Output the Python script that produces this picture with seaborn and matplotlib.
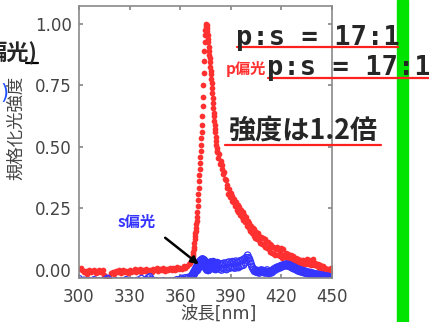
import numpy as np
import pandas as pd
import matplotlib
matplotlib.use('Agg')
import matplotlib.pyplot as plt
import seaborn as sns
from matplotlib.patches import Rectangle
from matplotlib.lines import Line2D

# sampling grid of the spectrum (nm): coarse baseline, fine around the peak, tail
wl_base = np.arange(300, 367, 1.0)
wl_peak = np.arange(367, 382, 0.2)
wl_tail = np.arange(382, 450.01, 0.5)

# p-polarised intensity (normalised)
p_base = [0.005, 0.008, 0.0, -0.01, -0.005, -0.015, 0.0, -0.01, -0.005, 0.0,
          -0.012, -0.008, 0.002, -0.01, 0.0, -0.02, -0.03, -0.035, -0.028, -0.012,
          -0.008, -0.015, -0.005, -0.01, -0.002, -0.012, 0.0, -0.008, -0.004, -0.012,
          0.002, -0.01, -0.005, 0.005, -0.008, -0.002, 0.004, -0.01, 0.0, -0.006,
          0.006, -0.004, 0.002, -0.008, 0.005, -0.002, 0.008, -0.005, 0.004, 0.0,
          0.008, -0.004, 0.006, 0.0, 0.01, 0.002, 0.008, 0.0, 0.012, 0.004,
          0.01, 0.006, 0.015, 0.01, 0.018, 0.025, 0.03]
p_peak = [0.04, 0.045, 0.055, 0.065, 0.075,
          0.085, 0.095, 0.11, 0.125, 0.14,
          0.15, 0.16, 0.17, 0.185, 0.2,
          0.215, 0.235, 0.26, 0.285, 0.31,
          0.335, 0.36, 0.385, 0.41, 0.435,
          0.46, 0.485, 0.51, 0.535, 0.56,
          0.59, 0.625, 0.665, 0.705, 0.75,
          0.8, 0.85, 0.89, 0.925, 0.955,
          0.975, 0.99, 1.0, 0.995, 0.985,
          0.97, 0.955, 0.94, 0.925, 0.905,
          0.89, 0.875, 0.86, 0.845, 0.825,
          0.81, 0.795, 0.775, 0.76, 0.74,
          0.72, 0.70, 0.68, 0.66, 0.64,
          0.625, 0.605, 0.59, 0.575, 0.56,
          0.54, 0.525, 0.51, 0.495, 0.485]
p_tail = [0.48, 0.455, 0.47, 0.43, 0.445, 0.41, 0.425, 0.39, 0.40, 0.37,
          0.365, 0.335, 0.345, 0.31, 0.33, 0.295, 0.315, 0.28, 0.30, 0.275,
          0.29, 0.26, 0.275, 0.245, 0.265, 0.235, 0.255, 0.225, 0.245, 0.215,
          0.235, 0.205, 0.225, 0.195, 0.215, 0.18, 0.2, 0.17, 0.19, 0.16,
          0.18, 0.15, 0.17, 0.14, 0.165, 0.13, 0.155, 0.125, 0.15, 0.12,
          0.14, 0.11, 0.135, 0.105, 0.13, 0.1, 0.125, 0.095, 0.115, 0.09,
          0.115, 0.085, 0.105, 0.075, 0.1, 0.07, 0.095, 0.065, 0.09, 0.06,
          0.085, 0.095, 0.06, 0.08, 0.055, 0.09, 0.065, 0.05, 0.085, 0.055,
          0.055, 0.07, 0.06, 0.05, 0.065, 0.055, 0.045, 0.06, 0.05, 0.04,
          0.055, 0.045, 0.035, 0.05, 0.04, 0.03, 0.045, 0.035, 0.03, 0.04,
          0.03, 0.025, 0.04, 0.03, 0.025, 0.035, 0.045, 0.03, 0.025, 0.04,
          0.03, 0.02, 0.035, 0.045, 0.03, 0.02, 0.03, 0.025, 0.015, 0.025,
          0.02, 0.01, 0.02, 0.015, 0.005, 0.015, 0.01, 0.0, 0.01, 0.005,
          -0.005, 0.005, 0.0, -0.01, 0.005, 0.01, -0.005]

# s-polarised intensity (normalised)
s_base = [-0.035, -0.045, -0.05, -0.042, -0.048, -0.052, -0.044, -0.05, -0.046, -0.04,
          -0.048, -0.052, -0.045, -0.05, -0.044, -0.048, -0.04, -0.034, -0.042, -0.05,
          -0.046, -0.052, -0.044, -0.048, -0.05, -0.045, -0.052, -0.046, -0.04, -0.048,
          -0.05, -0.044, -0.052, -0.046, -0.05, -0.042, -0.048, -0.035, -0.046, -0.05,
          -0.04, -0.032, -0.028, -0.038, -0.046, -0.05, -0.044, -0.052, -0.046, -0.05,
          -0.044, -0.05, -0.046, -0.052, -0.045, -0.05, -0.044, -0.048, -0.04, -0.046,
          -0.038, -0.034, -0.04, -0.032, -0.036, -0.03, -0.028]
s_peak = [-0.025, -0.02, -0.028, -0.015, -0.022,
          -0.01, -0.018, -0.005, -0.012, 0.0,
          -0.008, 0.005, -0.002, 0.01, 0.002,
          0.015, -0.002, 0.022, 0.005, 0.028,
          0.01, 0.03, 0.012, 0.035, 0.015,
          0.038, 0.018, 0.04, 0.02, 0.042,
          0.022, 0.045, 0.025, 0.04, 0.02,
          0.042, 0.018, 0.038, 0.012, 0.035,
          0.01, 0.03, 0.005, 0.028, 0.0,
          0.025, 0.002, 0.022, -0.002, 0.02,
          0.0, 0.025, 0.005, 0.03, 0.01,
          0.032, 0.012, 0.03, 0.008, 0.028,
          0.006, 0.03, 0.01, 0.034, 0.012,
          0.03, 0.008, 0.028, 0.004, 0.025,
          0.002, 0.024, 0.006, 0.028, 0.01]
s_tail = [0.03, 0.008, 0.026, 0.004, 0.022, 0.0, 0.025, 0.006, 0.028, 0.004,
          0.024, 0.002, 0.03, 0.01, 0.032, 0.008, 0.028, 0.012, 0.034, 0.01,
          0.03, 0.008, 0.036, 0.014, 0.032, 0.01, 0.035, 0.015, 0.038, 0.018,
          0.04, 0.02, 0.045, 0.03, 0.05, 0.04, 0.06, 0.05, 0.045, 0.035,
          0.025, 0.015, 0.008, 0.002, -0.005, 0.0, -0.008, -0.002, -0.01, -0.004,
          -0.012, -0.005, 0.0, -0.008, -0.002, -0.01, -0.004, -0.012, -0.006, 0.0,
          -0.008, -0.014, -0.006, -0.012, -0.004, -0.01, -0.002, 0.004, -0.002, 0.006,
          0.01, 0.004, 0.012, 0.008, 0.015, 0.01, 0.018, 0.014, 0.02, 0.016,
          0.022, 0.018, 0.024, 0.02, 0.016, 0.022, 0.014, 0.018, 0.01, 0.015,
          0.006, 0.012, 0.004, 0.008, 0.0, 0.005, -0.004, 0.002, -0.006, 0.0,
          -0.008, -0.002, -0.01, -0.004, -0.012, -0.006, -0.014, -0.008, -0.012, -0.016,
          -0.01, -0.018, -0.012, -0.02, -0.014, -0.018, -0.022, -0.016, -0.02, -0.024,
          -0.018, -0.022, -0.026, -0.02, -0.024, -0.028, -0.022, -0.026, -0.03, -0.024,
          -0.028, -0.032, -0.026, -0.03, -0.028, -0.032, -0.03]

assert len(p_base) == len(s_base) == len(wl_base), (len(p_base), len(s_base), len(wl_base))
assert len(p_peak) == len(s_peak) == len(wl_peak), (len(p_peak), len(s_peak), len(wl_peak))
assert len(p_tail) == len(s_tail) == len(wl_tail), (len(p_tail), len(s_tail), len(wl_tail))

df = pd.DataFrame({
    'wavelength': np.concatenate([wl_base, wl_peak, wl_tail]),
    'p': p_base + p_peak + p_tail,
    's': s_base + s_peak + s_tail,
})

x_ticks = [300, 330, 360, 390, 420, 450]
y_ticks = [0.0, 0.25, 0.5, 0.75, 1.0]

RED = '#ff3030'
BLUE = '#3535ff'
W, H = 429, 322


def fx(px):
    return px / W


def fy(py):
    return 1 - py / H


sns.set_theme(style='ticks')
plt.rcParams['font.family'] = ['DejaVu Sans', 'Noto Sans CJK JP']
plt.rcParams.update({
    'axes.edgecolor': '#8a8a8a', 'axes.linewidth': 1.2,
    'xtick.direction': 'in', 'ytick.direction': 'in',
    'xtick.top': True, 'ytick.right': True,
    'xtick.color': '#8a8a8a', 'ytick.color': '#8a8a8a',
    'xtick.labelcolor': '#444444', 'ytick.labelcolor': '#444444',
    'xtick.major.size': 3, 'ytick.major.size': 3,
    'xtick.major.pad': 7, 'ytick.major.pad': 5,
    'xtick.labelsize': 12, 'ytick.labelsize': 12,
})

fig = plt.figure(figsize=(W / 100, H / 100), dpi=100)
ax = fig.add_axes([fx(79), fy(278), 253 / W, 272 / H])

sns.scatterplot(data=df, x='wavelength', y='p', color=RED, s=17, linewidth=0,
                ax=ax, legend=False)
sns.scatterplot(data=df, x='wavelength', y='s', color=BLUE, s=22, ax=ax, legend=False)
pts = ax.collections[-1]
pts.set_facecolor('none')
pts.set_edgecolor(BLUE)
pts.set_linewidth(0.9)

ax.set_xlim(300, 450)
ax.set_ylim(-0.0325, 1.073)
ax.set_xticks(x_ticks)
ax.set_yticks(y_ticks)
ax.set_yticklabels([f'{v:.2f}' for v in y_ticks])
ax.set_xlabel('波長[nm]', fontsize=12.5, color='#444444', va='top')
ax.set_ylabel('規格化光強度', fontsize=12.5, color='#444444')
ax.xaxis.set_label_coords(0.551, -0.098)
ax.yaxis.set_label_coords(-0.215, 0.553)

# arrow to the s-polarised curve
ax.annotate('', xy=(372.3, 0.016), xytext=(349.8, 0.138),
            arrowprops=dict(arrowstyle='-|>', color='black', lw=1.8, mutation_scale=11))
ax.text(334.4, 0.195, 's偏光', color=BLUE, fontsize=11, fontweight='bold',
        ha='center', va='center', family=['Noto Sans CJK JP'])

# slide overlay
fig.add_artist(Rectangle((fx(397), 0), 11 / W, 1, transform=fig.transFigure,
                         color='#00e400', zorder=1))

fig.text(fx(236), fy(45), 'p:s = 17:1', fontsize=19.5, fontweight='bold',
         family=['DejaVu Sans Mono'], va='baseline', ha='left', zorder=4)
fig.text(fx(267), fy(75), 'p:s = 17:1', fontsize=19.5, fontweight='bold',
         family=['DejaVu Sans Mono'], va='baseline', ha='left', zorder=4)
fig.text(fx(246), fy(69), 'p偏光', fontsize=11, fontweight='bold', color=RED,
         family=['Noto Sans CJK JP'], ha='center', va='center', zorder=4)
fig.text(fx(303), fy(131), '強度は1.2倍', fontsize=19.5, fontweight='bold',
         family=['Noto Sans CJK JP'], ha='center', va='center', zorder=4)
fig.text(fx(38), fy(52), '偏光)', fontsize=16, fontweight='bold',
         family=['Noto Sans CJK JP'], ha='right', va='center', zorder=4)
fig.text(fx(8), fy(93), ')', fontsize=15, color='#2050ff', ha='right', va='center', zorder=4)

for x0, x1, y in [(237, 398, 47), (268, 429, 78), (225, 381, 145)]:
    fig.add_artist(Line2D([fx(x0), fx(x1)], [fy(y), fy(y)], color='#ff2020', lw=1.6,
                          transform=fig.transFigure, zorder=3))
fig.add_artist(Line2D([fx(26), fx(38)], [fy(63), fy(63)], color='black', lw=1.6,
                      transform=fig.transFigure, zorder=3))

fig.savefig('out.png', dpi=100)
